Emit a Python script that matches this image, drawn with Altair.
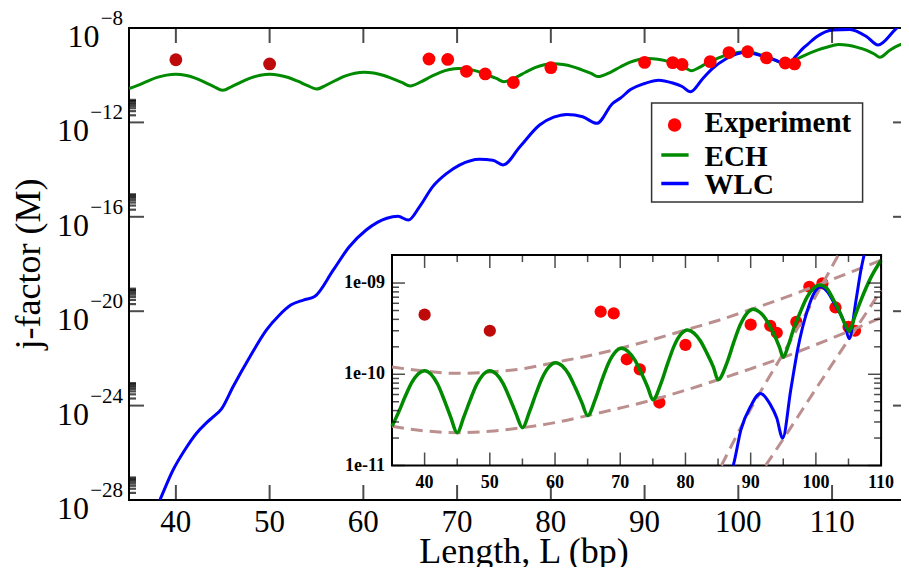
import math
import altair as alt
import pandas as pd

# ---------------- data ----------------
# Experimental j-factors (M) vs length (bp)
exp_len = [40, 50, 67, 69, 71, 73, 76, 80, 90, 93, 94, 97, 99, 101, 103, 105, 106]
exp_j = [4.5e-10, 3.0e-10, 4.85e-10, 4.65e-10, 1.46e-10, 1.13e-10, 4.9e-11, 2.1e-10,
         3.5e-10, 3.4e-10, 2.85e-10, 3.75e-10, 9.1e-10, 9.9e-10, 5.4e-10, 3.3e-10, 3.0e-10]
exp_set = ["earlier", "earlier"] + ["new"] * 15

# ECH model curve (length, log10 j)
ech_len = [35, 36, 37, 38, 39, 40, 41, 42, 43, 44, 45, 46, 47, 48, 49, 50, 51, 52, 53, 54,
           55, 56.1, 57.1, 58.1, 59.1, 60.1, 61.1, 62.1, 63.1, 64.1, 65, 66.2, 67.2, 68.2,
           69.2, 70.2, 71.2, 72.2, 73.2, 74.2, 75, 76.3, 77.3, 78.3, 79.3, 80.3, 81.3, 82.3,
           83.3, 84.3, 85, 86.4, 87.4, 88.4, 89.4, 90.4, 91.4, 92.4, 93.4, 94.4, 95, 95.7,
           96.6, 97.6, 98.6, 99.6, 100.6, 101.6, 102.6, 103.6, 104.4, 105.1, 106.0, 106.9,
           108.5, 110.0, 110.7, 111.7, 112.7, 113.7, 114.5, 115.1, 116.2, 117.2, 118.2]
ech_log = [-10.57, -10.418, -10.247, -10.094, -9.997, -9.96, -10.001, -10.11, -10.28, -10.47,
           -10.64, -10.47, -10.28, -10.11, -10.001, -9.96, -9.998, -10.098, -10.254, -10.429,
           -10.585, -10.407, -10.208, -10.03, -9.916, -9.873, -9.908, -10.0, -10.146, -10.308,
           -10.453, -10.269, -10.062, -9.878, -9.76, -9.716, -9.75, -9.84, -9.981, -10.139,
           -10.28, -10.089, -9.875, -9.683, -9.561, -9.515, -9.548, -9.635, -9.771, -9.924,
           -10.06, -9.867, -9.651, -9.458, -9.334, -9.288, -9.32, -9.404, -9.535, -9.70,
           -9.814, -9.70, -9.50, -9.32, -9.16, -9.06, -9.022, -9.052, -9.17, -9.31,
           -9.44, -9.526, -9.36, -9.19, -8.93, -8.75, -8.70, -8.73, -8.82, -8.95,
           -9.10, -9.24, -8.93, -8.72, -8.58]

# WLC model curve (length, log10 j)
wlc_len = [37.0, 38.3, 39.7, 41.0, 42.2, 43.2, 44.0, 44.85, 46.1, 47.9, 49.65, 51.0, 52.3,
           53.6, 54.8, 56.8, 58.5, 60.3, 62.5, 63.7, 64.8, 66.0, 67.4, 68.9, 70.3, 72.4,
           73.8, 74.9, 76.7, 78.8, 80.3, 81.7, 83.4, 84.9, 86.6, 87.4, 88.5, 90.0, 91.5,
           93.0, 94.0, 94.9, 96.15, 97.2, 98.7, 99.8, 100.8, 101.8, 102.8, 104.4, 105.1,
           106.15, 106.9, 107.4, 108.35, 110.1, 111.9, 113.7, 114.9, 116.7, 118.0]
wlc_log = [-29.2, -28.0, -26.73, -25.85, -25.17, -24.75, -24.47, -24.15, -23.2, -21.93,
           -20.80, -20.18, -19.73, -19.53, -19.38, -18.25, -17.27, -16.56, -16.06, -15.98,
           -16.14, -15.57, -14.72, -14.16, -13.80, -13.56, -13.60, -13.80, -13.03, -12.11,
           -11.78, -11.66, -11.76, -12.04, -11.19, -10.98, -10.61, -10.35, -10.21, -10.33,
           -10.48, -10.70, -10.17, -9.73, -9.30, -9.10, -9.04, -9.10, -9.22, -9.44, -9.61,
           -9.19, -8.86, -8.69, -8.37, -8.08, -8.06, -8.37, -8.72, -8.08, -7.6]

# dashed envelopes in the inset (length, log10 j)
ech_up_len = [35, 40, 45, 50, 55, 60, 65, 70, 75, 80, 85, 90, 95, 100, 105, 110]
ech_up_log = [-9.92, -9.965, -9.99, -9.975, -9.94, -9.87, -9.80, -9.715, -9.62, -9.515,
              -9.41, -9.29, -9.165, -9.03, -8.89, -8.75]
ech_lo_len = [35, 40, 45, 50, 55, 60, 65, 70, 75, 80, 85, 90, 95, 100, 105, 110]
ech_lo_log = [-10.57, -10.62, -10.64, -10.625, -10.585, -10.53, -10.453, -10.37, -10.28,
              -10.175, -10.06, -9.94, -9.814, -9.675, -9.53, -9.38]
wlc_up_len = [85.3, 90, 95, 100, 104]
wlc_up_log = [-11.03, -10.38, -9.77, -9.14, -8.62]
wlc_lo_len = [92.2, 95, 100, 105.1, 110]
wlc_lo_log = [-11.01, -10.71, -10.16, -9.61, -9.08]

# axes / labels
main_x_ticks = [40, 50, 60, 70, 80, 90, 100, 110]
main_y_major = [1e-24, 1e-20, 1e-16, 1e-12]
main_y_minor_decades = [-28, -24, -20, -16, -12]
main_y_labels = [1e-8, 1e-12, 1e-16, 1e-20, 1e-24, 1e-28]
main_y_exps = ["\u22128", "\u221212", "\u221216", "\u221220", "\u221224", "\u221228"]
ins_x_major = [40, 50, 60, 70, 80, 90, 100, 110]
ins_x_minor = [45, 55, 65, 75, 85, 95, 105]
ins_y_major = [1e-11, 1e-10, 1e-9]
ins_y_labels = ["1e-11", "1e-10", "1e-09"]
legend_labels = ["Experiment", "ECH", "WLC"]
x_title = "Length, L (bp)"
y_title = "j-factor (M)"

# ---------------- helpers ----------------
FONT = "Liberation Serif"
RED, DARKRED, GREEN, BLUE, DASH = "#FF0000", "#BE0A0A", "#008A00", "#0000FF", "#BC8F8F"

MX = [35, 118.1]
MY = [1e-28, 1e-8]
IX = [35, 110]
IY = [1e-11, 2.03e-9]

mx = alt.Scale(domain=MX, nice=False, zero=False)
my = alt.Scale(type="log", domain=MY, nice=False)
ix = alt.Scale(domain=IX, range=[263.0, 752.1], nice=False, zero=False)
iy = alt.Scale(type="log", domain=IY, range=[437.5, 227.0], nice=False)


def clip_polyline(xs, ls, xlo, xhi, llo, lhi):
    segs, cur = [], []
    for i in range(len(xs) - 1):
        ax, ay, bx, by = xs[i], ls[i], xs[i + 1], ls[i + 1]
        dx, dy = bx - ax, by - ay
        t0, t1, ok = 0.0, 1.0, True
        for p, q in ((-dx, ax - xlo), (dx, xhi - ax), (-dy, ay - llo), (dy, lhi - ay)):
            if p == 0:
                if q < 0:
                    ok = False
                    break
            else:
                r = q / p
                if p < 0:
                    if r > t1:
                        ok = False
                        break
                    t0 = max(t0, r)
                else:
                    if r < t0:
                        ok = False
                        break
                    t1 = min(t1, r)
        if not ok:
            if cur:
                segs.append(cur)
                cur = []
            continue
        p0 = (ax + t0 * dx, ay + t0 * dy)
        p1 = (ax + t1 * dx, ay + t1 * dy)
        if cur and abs(cur[-1][0] - p0[0]) < 1e-9 and abs(cur[-1][1] - p0[1]) < 1e-9:
            cur.append(p1)
        else:
            if cur:
                segs.append(cur)
            cur = [p0, p1]
    if cur:
        segs.append(cur)
    rows = []
    for k, s in enumerate(segs):
        for (x, l) in s:
            rows.append({"L": x, "j": 10 ** l, "seg": k})
    return pd.DataFrame(rows)


def icurve(xs, ls):
    return clip_polyline(xs, ls, IX[0], IX[1], -11.0, math.log10(IY[1]))


ech_df = pd.DataFrame({"L": ech_len, "j": [10 ** v for v in ech_log]})
wlc_df = pd.DataFrame({"L": wlc_len, "j": [10 ** v for v in wlc_log]})
exp_df = pd.DataFrame({"L": exp_len, "j": exp_j, "set": exp_set})
pt_color = alt.Color("set:N", scale=alt.Scale(domain=["earlier", "new"], range=[DARKRED, RED]),
                     legend=None)

# ---------------- main plot ----------------
Xm = lambda f: alt.X(f, type="quantitative", scale=mx, axis=None)
Ym = lambda f: alt.Y(f, type="quantitative", scale=my, axis=None)

m_ech = alt.Chart(ech_df).mark_line(color=GREEN, strokeWidth=3, clip=True,
                                    interpolate="monotone").encode(x=Xm("L"), y=Ym("j"))
m_wlc = alt.Chart(wlc_df).mark_line(color=BLUE, strokeWidth=3, clip=True,
                                    interpolate="monotone").encode(x=Xm("L"), y=Ym("j"))
m_pts = alt.Chart(exp_df).mark_point(filled=True, size=165, opacity=1).encode(
    x=Xm("L"), y=Ym("j"), color=pt_color)

xt_df = pd.DataFrame({"t": main_x_ticks})
m_xt_bot = alt.Chart(xt_df).mark_tick(orient="vertical", size=15, thickness=2,
                                      yOffset=-7.5, color="black").encode(
    x=Xm("t"), y=alt.YDatum(MY[0], scale=my, axis=None))
m_xt_top = alt.Chart(xt_df).mark_tick(orient="vertical", size=15, thickness=2,
                                      yOffset=7.5, color="black").encode(
    x=Xm("t"), y=alt.YDatum(MY[1], scale=my, axis=None))
yM_df = pd.DataFrame({"t": main_y_major})
ym_df = pd.DataFrame({"t": [k * 10.0 ** e for e in main_y_minor_decades for k in range(2, 10)]})
m_yt = []
for df, sz, th in ((yM_df, 15, 2), (ym_df, 7, 2.2)):
    m_yt.append(alt.Chart(df).mark_tick(orient="horizontal", size=sz, thickness=th,
                                        xOffset=sz / 2, color="black").encode(
        y=Ym("t"), x=alt.XDatum(MX[0], scale=mx, axis=None)))
    m_yt.append(alt.Chart(df).mark_tick(orient="horizontal", size=sz, thickness=th,
                                        xOffset=-sz / 2, color="black").encode(
        y=Ym("t"), x=alt.XDatum(MX[1], scale=mx, axis=None)))

m_xlab = alt.Chart(xt_df).mark_text(font=FONT, fontSize=31, dy=32, baseline="alphabetic",
                                    align="center", color="black").encode(
    x=Xm("t"), y=alt.YDatum(MY[0], scale=my, axis=None), text=alt.Text("t:Q", format="d"))

ylab_df = pd.DataFrame({"v": main_y_labels, "e": main_y_exps, "b": ["10"] * len(main_y_labels)})
m_yexp = alt.Chart(ylab_df).mark_text(font=FONT, fontSize=21, dx=-6, dy=-3, align="right",
                                      baseline="alphabetic", color="black").encode(
    y=Ym("v"), x=alt.XDatum(MX[0], scale=mx, axis=None), text="e:N")
m_yten_short = alt.Chart(ylab_df).transform_filter("length(datum.e) == 2").mark_text(
    font=FONT, fontSize=32, dx=-29.5, dy=19, align="right", baseline="alphabetic",
    color="black").encode(y=Ym("v"), x=alt.XDatum(MX[0], scale=mx, axis=None), text="b:N")
m_yten_long = alt.Chart(ylab_df).transform_filter("length(datum.e) == 3").mark_text(
    font=FONT, fontSize=32, dx=-40, dy=19, align="right", baseline="alphabetic",
    color="black").encode(y=Ym("v"), x=alt.XDatum(MX[0], scale=mx, axis=None), text="b:N")

m_xtitle = alt.Chart(pd.DataFrame({"s": [x_title]})).mark_text(
    font=FONT, fontSize=36, align="center", baseline="alphabetic", color="black").encode(
    x=alt.value(395), y=alt.value(535), text="s:N")
m_ytitle = alt.Chart(pd.DataFrame({"s": [y_title]})).mark_text(
    font=FONT, fontSize=36, align="center", baseline="alphabetic", angle=270,
    color="black").encode(x=alt.value(-89), y=alt.value(236), text="s:N")

# legend
leg_box = alt.Chart(pd.DataFrame({"s": ["box"]})).mark_rect(
    fill="white", stroke="#333333", strokeWidth=1.5).encode(
    x=alt.value(522.6), x2=alt.value(733.6), y=alt.value(75), y2=alt.value(174))
leg_pt = alt.Chart(pd.DataFrame({"s": [legend_labels[0]]})).mark_point(
    filled=True, size=180, color=RED, opacity=1).encode(x=alt.value(545.6), y=alt.value(97))
leg_g = alt.Chart(pd.DataFrame({"s": [legend_labels[1]]})).mark_rule(
    color=GREEN, strokeWidth=3.5).encode(x=alt.value(532.3), x2=alt.value(559.6),
                                         y=alt.value(127))
leg_b = alt.Chart(pd.DataFrame({"s": [legend_labels[2]]})).mark_rule(
    color=BLUE, strokeWidth=3.5).encode(x=alt.value(532.3), x2=alt.value(559.6),
                                        y=alt.value(155.5))
leg_txt = []
for lab, yy in zip(legend_labels, [103.7, 137.5, 166]):
    leg_txt.append(alt.Chart(pd.DataFrame({"s": [lab]})).mark_text(
        font=FONT, fontSize=29, fontWeight="bold", align="left", baseline="alphabetic",
        color="black").encode(x=alt.value(575.6), y=alt.value(yy), text="s:N"))

main = alt.layer(m_ech, m_wlc, m_pts, m_xt_bot, m_xt_top, *m_yt, m_xlab, m_yexp,
                 m_yten_short, m_yten_long, m_xtitle, m_ytitle, leg_box, leg_pt, leg_g,
                 leg_b, *leg_txt)

# ---------------- inset ----------------
Xi = lambda f: alt.X(f, type="quantitative", scale=ix, axis=None)
Yi = lambda f: alt.Y(f, type="quantitative", scale=iy, axis=None)

bg_df = pd.DataFrame({"x0": [IX[0]], "x1": [IX[1]], "y0": [IY[0]], "y1": [IY[1]]})
i_bg = alt.Chart(bg_df).mark_rect(fill="white", stroke="black", strokeWidth=2).encode(
    x=Xi("x0"), x2="x1", y=Yi("y0"), y2="y1")
i_pts = alt.Chart(exp_df).mark_point(filled=True, size=150, opacity=1).encode(
    x=Xi("L"), y=Yi("j"), color=pt_color)
i_dash = []
for xs, ls in ((ech_up_len, ech_up_log), (ech_lo_len, ech_lo_log),
               (wlc_up_len, wlc_up_log), (wlc_lo_len, wlc_lo_log)):
    i_dash.append(alt.Chart(icurve(xs, ls)).mark_line(
        color=DASH, strokeWidth=3, strokeDash=[12, 7], interpolate="monotone").encode(
        x=Xi("L"), y=Yi("j"), detail="seg:N"))
i_wlc = alt.Chart(icurve(wlc_len, wlc_log)).mark_line(
    color=BLUE, strokeWidth=3, interpolate="monotone").encode(
    x=Xi("L"), y=Yi("j"), detail="seg:N")
i_ech = alt.Chart(icurve(ech_len, ech_log)).mark_line(
    color=GREEN, strokeWidth=3.5, interpolate="monotone").encode(
    x=Xi("L"), y=Yi("j"), detail="seg:N")

ixM = pd.DataFrame({"t": ins_x_major})
ixm = pd.DataFrame({"t": ins_x_minor})
iyM = pd.DataFrame({"t": ins_y_major, "s": ins_y_labels})
iym = pd.DataFrame({"t": [k * d for d in (1e-11, 1e-10) for k in range(2, 10)]})
i_ticks = []
for df, sz in ((ixM, 13), (ixm, 7)):
    i_ticks.append(alt.Chart(df).mark_tick(orient="vertical", size=sz, thickness=1.5,
                                           yOffset=-sz / 2, color="black").encode(
        x=Xi("t"), y=alt.YDatum(IY[0], scale=iy, axis=None)))
    i_ticks.append(alt.Chart(df).mark_tick(orient="vertical", size=sz, thickness=1.5,
                                           yOffset=sz / 2, color="black").encode(
        x=Xi("t"), y=alt.YDatum(IY[1], scale=iy, axis=None)))
for df, sz in ((iyM, 13), (iym, 7)):
    i_ticks.append(alt.Chart(df).mark_tick(orient="horizontal", size=sz, thickness=1.5,
                                           xOffset=sz / 2, color="black").encode(
        y=Yi("t"), x=alt.XDatum(IX[0], scale=ix, axis=None)))
    i_ticks.append(alt.Chart(df).mark_tick(orient="horizontal", size=sz, thickness=1.5,
                                           xOffset=-sz / 2, color="black").encode(
        y=Yi("t"), x=alt.XDatum(IX[1], scale=ix, axis=None)))
i_xlab = alt.Chart(ixM).mark_text(font=FONT, fontSize=18, fontWeight="bold", dy=22.5,
                                  align="center", baseline="alphabetic", color="black").encode(
    x=Xi("t"), y=alt.YDatum(IY[0], scale=iy, axis=None), text=alt.Text("t:Q", format="d"))
i_ylab = alt.Chart(iyM).mark_text(font=FONT, fontSize=18, fontWeight="bold", dx=-7,
                                  align="right", baseline="middle", color="black").encode(
    y=Yi("t"), x=alt.XDatum(IX[0], scale=ix, axis=None), text="s:N")

inset = alt.layer(i_bg, i_pts, *i_dash, i_wlc, i_ech, *i_ticks, i_xlab, i_ylab)

# the svg is kept 893 px wide so that page + margins fit the 909 px window;
# the plot's right frame falls just past the svg edge, as in the cropped original
chart = alt.layer(main, inset).resolve_scale(x="independent", y="independent").properties(
    width=779, height=472,
    autosize=alt.AutoSizeParams(type="none"),
    padding={"left": 121, "top": 20, "right": -7, "bottom": 67},
    background="white",
).configure_view(stroke="black", strokeWidth=2)

chart.save("out.html", embed_options={"renderer": "svg", "actions": False})
